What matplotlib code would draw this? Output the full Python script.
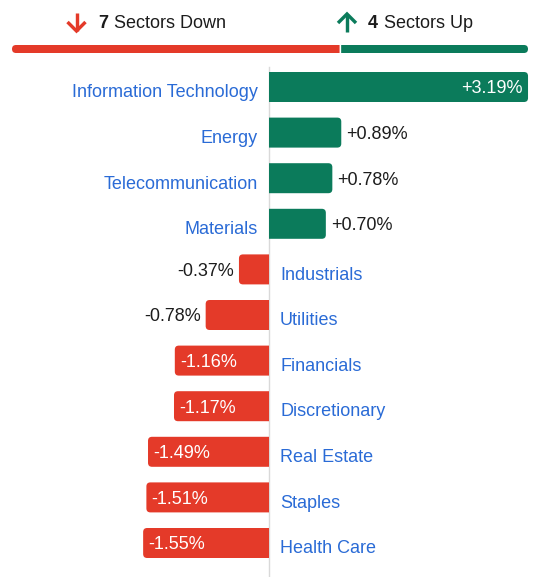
import matplotlib.pyplot as plt
from matplotlib.patches import PathPatch
from matplotlib.path import Path
from matplotlib.lines import Line2D

# data
sectors = ["Information Technology", "Energy", "Telecommunication", "Materials",
           "Industrials", "Utilities", "Financials", "Discretionary",
           "Real Estate", "Staples", "Health Care"]
changes = [3.19, 0.89, 0.78, 0.70, -0.37, -0.78, -1.16, -1.17, -1.49, -1.51, -1.55]

n_down = sum(1 for c in changes if c < 0)
n_up = sum(1 for c in changes if c > 0)

GREEN = "#0b7b5b"
RED = "#e43a29"
BLUE = "#2a6bd6"
DARK = "#1c1c1c"
FONT = "Liberation Sans"
FS = 13

W, H = 545, 577
PX_PER_PCT = 81.2   # horizontal scale, pixels per percent
ZERO_X = 269        # pixel position of the zero line
ROW = 45.6          # pixel spacing between rows
FIRST = 87          # pixel centre of first row
BAR_H = 30 / ROW
R_PX = 4            # corner radius in pixels

fig = plt.figure(figsize=(W / 100, H / 100), dpi=100)
fig.patch.set_facecolor("white")


def end_rounded_bar(ax, y, start, end, height, color, rx, ry):
    """horizontal bar from start to end, only the 'end' side rounded"""
    s = 1 if end > start else -1
    y0, y1 = y - height / 2, y + height / 2
    verts = [(start, y0), (end - s * rx, y0), (end, y0), (end, y0 + ry),
             (end, y1 - ry), (end, y1), (end - s * rx, y1), (start, y1),
             (start, y0)]
    codes = [Path.MOVETO, Path.LINETO, Path.CURVE3, Path.CURVE3,
             Path.LINETO, Path.CURVE3, Path.CURVE3, Path.LINETO,
             Path.CLOSEPOLY]
    ax.add_patch(PathPatch(Path(verts, codes), fc=color, ec="none"))


# main chart
ax = fig.add_axes([0, 0, 1, 1])
ax.set_xlim(-ZERO_X / PX_PER_PCT, (W - ZERO_X) / PX_PER_PCT)
ax.set_ylim((H - FIRST) / ROW, -FIRST / ROW)
ax.axis("off")

ax.axvline(0, ymin=0, ymax=1 - 67 / H, color="#d9d9d9", lw=1, zorder=0)

pad = 5 / PX_PER_PCT
lab_pad = 11 / PX_PER_PCT
lab_dy = 10.3 / ROW   # label baseline below bar centre
val_dy = 6.4 / ROW    # value baseline below bar centre
for i, (name, c) in enumerate(zip(sectors, changes)):
    color = GREEN if c > 0 else RED
    end_rounded_bar(ax, i, 0, c, BAR_H, color, R_PX / PX_PER_PCT, R_PX / ROW)

    txt = f"{c:+.2f}%"
    inside = abs(c) >= 1.0
    side = 1 if c > 0 else -1
    ax.text(-side * lab_pad, i + lab_dy, name,
            ha="right" if c > 0 else "left", va="baseline",
            color=BLUE, fontsize=FS, family=FONT)
    if inside:
        ax.text(c - side * pad, i + val_dy, txt,
                ha="right" if c > 0 else "left", va="baseline",
                color="white", fontsize=FS, family=FONT)
    else:
        ax.text(c + side * pad, i + val_dy, txt,
                ha="left" if c > 0 else "right", va="baseline",
                color=DARK, fontsize=FS, family=FONT)

# header split bar
hx = fig.add_axes([12 / W, 1 - 53 / H, 516 / W, 8 / H])
total = n_down + n_up
hpx = 516 / total
hx.set_xlim(0, total)
hx.set_ylim(-0.5, 0.5)
hx.axis("off")
gap = 0.8 / hpx
end_rounded_bar(hx, 0, n_down - gap, 0, 1, RED, 4 / hpx, 0.5)
end_rounded_bar(hx, 0, n_down + gap, total, 1, GREEN, 4 / hpx, 0.5)


# header arrows drawn as strokes, pixel coords
def px(x, y):
    return x / W, 1 - y / H


def arrow(cx, tip_y, tail_y, color):
    head = 9 if tip_y > tail_y else -9
    lw = 3.4 * 0.72
    xs, ys = zip(px(cx, tail_y), px(cx, tip_y))
    fig.add_artist(Line2D(xs, ys, transform=fig.transFigure, color=color,
                          lw=lw, solid_capstyle="butt"))
    xs, ys = zip(px(cx - 9, tip_y - head), px(cx, tip_y), px(cx + 9, tip_y - head))
    fig.add_artist(Line2D(xs, ys, transform=fig.transFigure, color=color,
                          lw=lw, solid_capstyle="butt", solid_joinstyle="miter"))


arrow(76.5, 31, 13, RED)
arrow(347, 14, 32, GREEN)

base = 1 - 27.5 / H
fig.text(98 / W, base, str(n_down), ha="left", va="baseline", color=DARK,
         fontsize=FS, fontweight="bold", family=FONT)
fig.text(114 / W, base, "Sectors Down", ha="left", va="baseline", color=DARK,
         fontsize=FS, family=FONT)
fig.text(368 / W, base, str(n_up), ha="left", va="baseline", color=DARK,
         fontsize=FS, fontweight="bold", family=FONT)
fig.text(384 / W, base, "Sectors Up", ha="left", va="baseline", color=DARK,
         fontsize=FS, family=FONT)

fig.savefig("out.png", dpi=100)
plt.close()
